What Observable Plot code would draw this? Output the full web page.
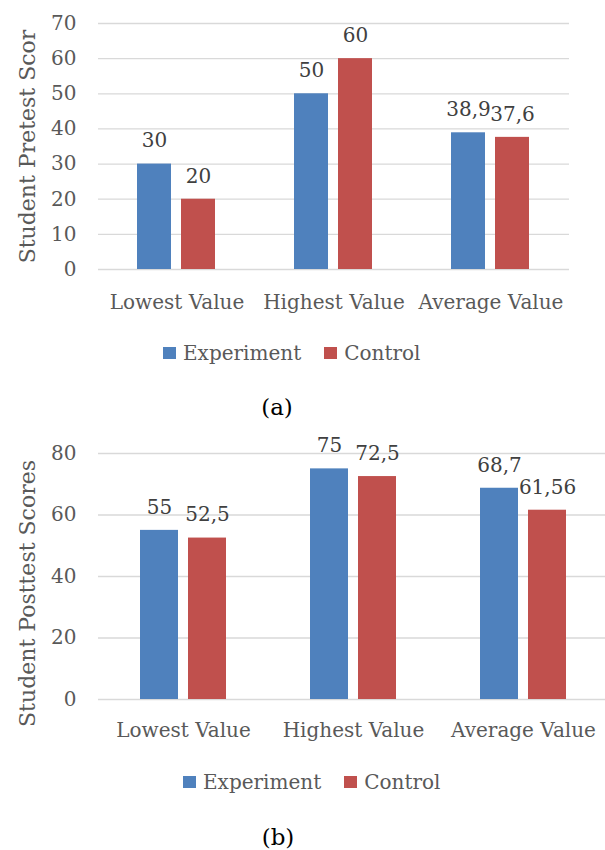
<!DOCTYPE html>
<html>
<head>
<meta charset="utf-8">
<script src="https://cdn.jsdelivr.net/npm/d3@7"></script>
<script src="https://cdn.jsdelivr.net/npm/@observablehq/plot@0.6"></script>
<style>
  html, body { margin: 0; padding: 0; background: #fff; }
  #root { position: relative; width: 605px; height: 850px; overflow: hidden; font-family: 'DejaVu Serif', serif; color: #595959; }
  .abs { position: absolute; }
  .legend { display: flex; align-items: center; font-size: 20px; line-height: 24px; height: 24px; white-space: nowrap; }
  .sw { width: 13px; height: 12px; margin-right: 7px; }
  .item { display: flex; align-items: center; margin-right: 23px; }
  .cap { font-size: 23px; line-height: 28px; text-align: center; width: 100px; color: #000; }
</style>
</head>
<body>
<div id="root"></div>
<script>
const categories = ["Lowest Value", "Highest Value", "Average Value"];
const series = ["Experiment", "Control"];
const colors = ["#4f81bd", "#c0504d"];

const pretestExperiment = [30, 50, 38.9];
const pretestControl = [20, 60, 37.6];
const pretestTicks = [0, 10, 20, 30, 40, 50, 60, 70];
const pretestTitle = "Student Pretest Scor";

const posttestExperiment = [55, 75, 68.7];
const posttestControl = [52.5, 72.5, 61.56];
const posttestTicks = [0, 20, 40, 60, 80];
const posttestTitle = "Student Posttest Scores";

const captions = ["(a)", "(b)"];

const fmt = v => String(v).replace(".", ",");

function rowsOf(exp, ctrl) {
  return categories.flatMap((c, i) => [
    {category: c, series: series[0], value: exp[i]},
    {category: c, series: series[1], value: ctrl[i]}
  ]);
}

function makeChart({exp, ctrl, ticks, title, marginRight, titleDy, fxPad}) {
  const rows = rowsOf(exp, ctrl);
  const yMax = ticks[ticks.length - 1];
  return Plot.plot({
    width: 605,
    height: 320,
    marginLeft: 97,
    marginRight,
    marginTop: 23,
    marginBottom: 51,
    style: {fontFamily: "'DejaVu Serif', serif", fontSize: "20px", color: "#595959", background: "transparent", overflow: "hidden"},
    fx: {domain: categories, padding: 0, axis: null, label: null},
    x: {domain: series, paddingInner: 0.217, paddingOuter: 0.868, axis: null},
    y: {domain: [0, yMax], axis: null},
    color: {domain: series, range: colors},
    marks: [
      Plot.gridY(ticks, {stroke: "#d9d9d9", strokeOpacity: 1, strokeWidth: 1.3}),
      Plot.barY(rows, {fx: "category", x: "series", y: "value", fill: "series"}),
      Plot.text(rows, {fx: "category", x: "series", y: "value", text: d => fmt(d.value), dy: -23, fill: "#404040", fontSize: 20, lineAnchor: "middle"}),
      Plot.axisY({ticks, tickSize: 0, tickPadding: 22, label: null, fontSize: 20, fill: "#595959"}),
      Plot.text([title], {fx: () => categories[0], frameAnchor: "left", rotate: -90, dx: -71, dy: titleDy, fontSize: 22, fill: "#595959", text: d => d, textAnchor: "middle", lineAnchor: "middle"}),
      Plot.axisFx({anchor: "bottom", tickSize: 0, tickPadding: fxPad, label: null, fontSize: 20, fill: "#595959"})
    ]
  });
}

const root = document.getElementById("root");

function place(el, top, left) {
  el.classList.add("abs");
  el.style.top = top + "px";
  if (left != null) el.style.left = left + "px";
  root.appendChild(el);
  return el;
}

function legend(top, left) {
  const div = document.createElement("div");
  div.className = "legend";
  series.forEach((s, i) => {
    const item = document.createElement("div");
    item.className = "item";
    const sw = document.createElement("div");
    sw.className = "sw";
    sw.style.background = colors[i];
    const t = document.createElement("span");
    t.textContent = s;
    item.appendChild(sw);
    item.appendChild(t);
    div.appendChild(item);
  });
  place(div, top, left);
}

function caption(text, top, centerX) {
  const div = document.createElement("div");
  div.className = "cap";
  div.textContent = text;
  place(div, top, centerX - 50);
}

const chartA = makeChart({exp: pretestExperiment, ctrl: pretestControl, ticks: pretestTicks, title: pretestTitle, marginRight: 36, titleDy: 0, fxPad: 25});
place(chartA, 0, 0);
legend(341, 163);
caption(captions[0], 393, 277);

const chartB = makeChart({exp: posttestExperiment, ctrl: posttestControl, ticks: posttestTicks, title: posttestTitle, marginRight: -3.5, titleDy: 17, fxPad: 23});
place(chartB, 430, 0);
legend(770, 183);
caption(captions[1], 823, 278);
</script>
</body>
</html>
